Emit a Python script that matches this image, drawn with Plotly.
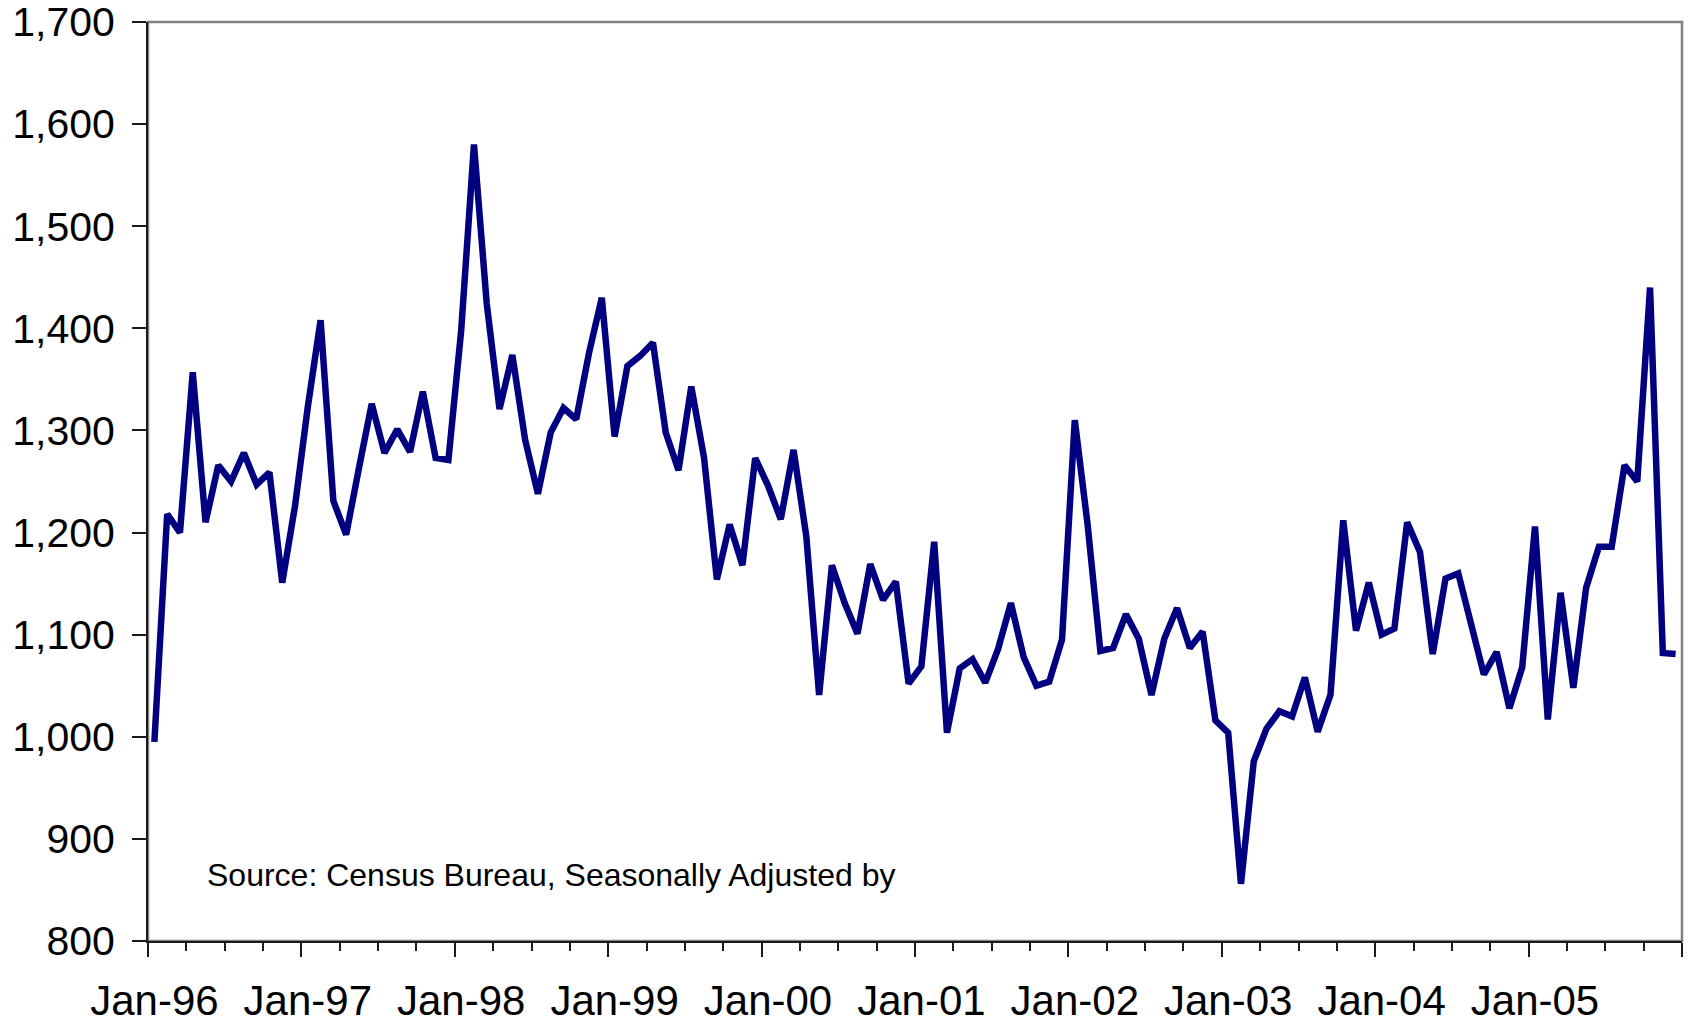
import plotly.graph_objects as go

# ---- Data (monthly, Jan-96 .. Dec-05) ----
years = ["96", "97", "98", "99", "00", "01", "02", "03", "04", "05"]
months = ["Jan", "Feb", "Mar", "Apr", "May", "Jun", "Jul", "Aug", "Sep", "Oct", "Nov", "Dec"]
categories = [f"{m}-{y}" for y in years for m in months]

v1996 = [995, 1218, 1200, 1357, 1210, 1266, 1250, 1278, 1247, 1259, 1151, 1226]
v1997 = [1323, 1408, 1231, 1198, 1263, 1326, 1278, 1301, 1279, 1338, 1273, 1271]
v1998 = [1398, 1580, 1424, 1321, 1374, 1291, 1238, 1298, 1322, 1311, 1376, 1430]
v1999 = [1294, 1363, 1373, 1386, 1298, 1261, 1343, 1273, 1154, 1208, 1168, 1273]
v2000 = [1246, 1213, 1281, 1196, 1041, 1168, 1131, 1101, 1169, 1134, 1152, 1052]
v2001 = [1069, 1191, 1004, 1067, 1076, 1053, 1086, 1131, 1078, 1050, 1054, 1095]
v2002 = [1310, 1208, 1084, 1087, 1120, 1096, 1041, 1096, 1126, 1087, 1103, 1016]
v2003 = [1004, 856, 976, 1008, 1025, 1020, 1058, 1005, 1041, 1212, 1104, 1151]
v2004 = [1100, 1106, 1210, 1181, 1081, 1155, 1160, 1108, 1061, 1083, 1028, 1068]
v2005 = [1206, 1017, 1141, 1048, 1146, 1186, 1186, 1266, 1250, 1440, 1082, 1081]
values = v1996 + v1997 + v1998 + v1999 + v2000 + v2001 + v2002 + v2003 + v2004 + v2005

x_labels = [f"Jan-{y}" for y in years]
y_ticks = [800, 900, 1000, 1100, 1200, 1300, 1400, 1500, 1600, 1700]
source_text = "Source: Census Bureau, Seasonally Adjusted by"

n = len(values)
idx = list(range(n))
label_pos = [i for i, c in enumerate(categories) if c.startswith("Jan")]
minor_pos = [k - 0.5 for k in range(0, n + 1, 3)]
major_pos = [k - 0.5 for k in range(0, n + 1, 12)]

FONT = "Liberation Sans, Arial, sans-serif"
AXIS = "#1a1a1a"

fig = go.Figure()
fig.add_trace(go.Scatter(
    x=idx, y=values, mode="lines",
    line=dict(color="#000080", width=6.5),
    hoverinfo="skip", showlegend=False, xaxis="x", yaxis="y",
))
# invisible trace to anchor secondary x-axis (labels)
fig.add_trace(go.Scatter(
    x=idx, y=values, mode="lines", line=dict(color="rgba(0,0,0,0)", width=0),
    hoverinfo="skip", showlegend=False, xaxis="x2", yaxis="y",
))

fig.update_layout(
    width=1688, height=1023,
    margin=dict(l=147.5, r=5.5, t=21.5, b=82),
    paper_bgcolor="white", plot_bgcolor="rgba(0,0,0,0)",
    font=dict(family=FONT, color="black"),
    xaxis=dict(
        range=[-0.5, n - 0.5], showgrid=False, zeroline=False, automargin=False,
        showline=True, linecolor=AXIS, linewidth=2,
        tickmode="array", tickvals=major_pos, ticks="outside",
        ticklen=14, tickwidth=2, tickcolor=AXIS, showticklabels=False,
        minor=dict(tickmode="array", tickvals=minor_pos, ticks="outside",
                   ticklen=8, tickwidth=2, tickcolor=AXIS, showgrid=False),
    ),
    xaxis2=dict(
        overlaying="x", matches="x", side="bottom", anchor="y", automargin=False,
        showgrid=False, zeroline=False, showline=False,
        tickmode="array", tickvals=label_pos, ticktext=x_labels,
        ticks="", tickfont=dict(size=42, family=FONT, color="black"),
        ticklabelstandoff=31, ticklabeloverflow="allow",
    ),
    yaxis=dict(
        range=[800, 1700], showgrid=False, zeroline=False, automargin=False,
        showline=True, linecolor=AXIS, linewidth=2,
        tickmode="array", tickvals=y_ticks, tickformat=",d",
        ticks="outside", ticklen=14, tickwidth=2, tickcolor=AXIS,
        tickfont=dict(size=41, family=FONT, color="black"),
        ticklabelstandoff=9, ticklabeloverflow="allow",
    ),
    shapes=[dict(type="rect", xref="paper", yref="paper", x0=0, y0=0, x1=1, y1=1,
                 line=dict(color="#808080", width=2.5), layer="below")],
    annotations=[dict(text=source_text, xref="paper", yref="paper",
                      x=0.037, y=0.072, xanchor="left", yanchor="middle",
                      showarrow=False, font=dict(size=32, family=FONT, color="black"))],
)

fig.write_html(
    "out.html",
    config={"displayModeBar": False, "staticPlot": True},
    post_script="document.body.style.margin='0';document.body.style.overflow='hidden';",
)
